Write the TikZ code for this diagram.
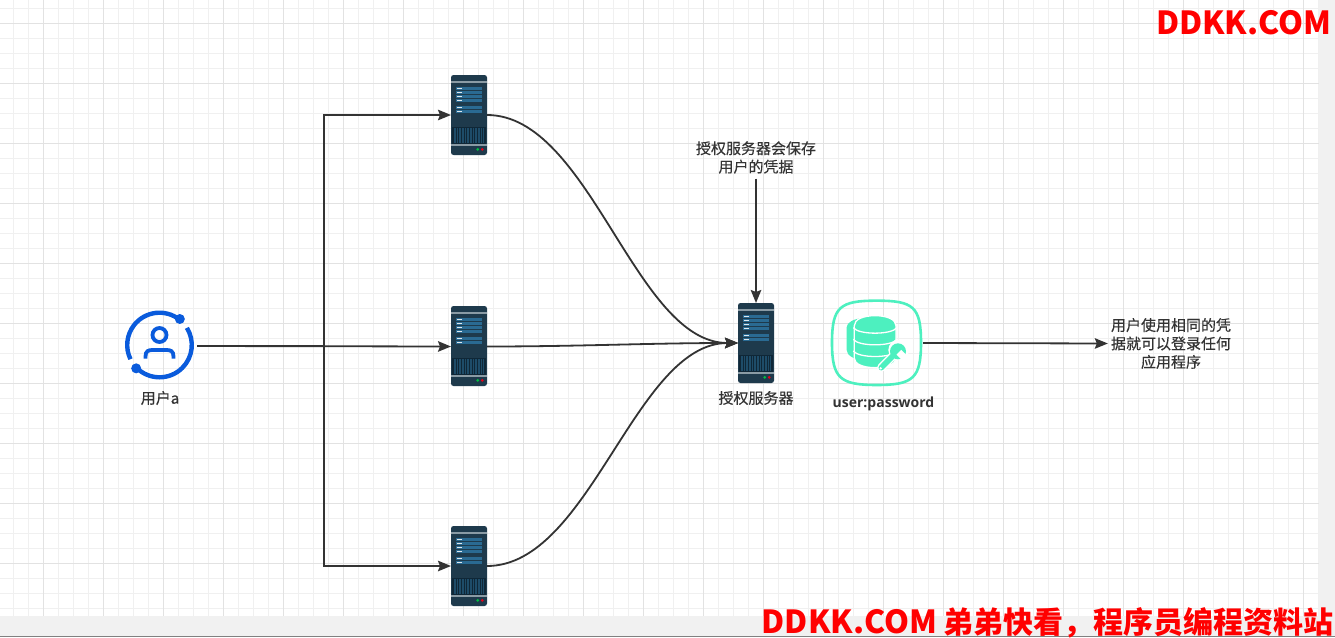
\documentclass[tikz,border=0pt]{standalone}
\usepackage{fontspec}
\setmainfont{Noto Sans CJK SC}[FakeBold=0.25]
\newfontfamily\brandfont{Noto Sans CJK SC}
\newfontfamily\dbfont{Open Sans}
\usetikzlibrary{arrows.meta}
\definecolor{ink}{HTML}{333333}
\definecolor{gridminor}{HTML}{F0F0F0}
\definecolor{gridmajor}{HTML}{E2E2E2}
\definecolor{chrome}{HTML}{F1F1F1}
\definecolor{bodyc}{HTML}{1E3A4C}
\definecolor{stripe}{HTML}{8A9BA5}
\definecolor{panel}{HTML}{2A6A92}
\definecolor{grille}{HTML}{0F2737}
\definecolor{userblue}{HTML}{0A5BDC}
\definecolor{mint}{HTML}{4DF0BF}
\tikzset{
  conn/.style={draw=ink,line width=1.8pt,-{Stealth[length=13pt,width=10.5pt,inset=2pt]}},
  plainline/.style={draw=ink,line width=1.8pt},
  label/.style={text=ink,font=\fontsize{15}{18.4}\selectfont,align=center,inner sep=0pt},
  brand/.style={text=red,font=\brandfont\fontsize{30}{30}\selectfont\bfseries,inner sep=0pt},
  box/.style={inner sep=0pt,outer sep=0pt,minimum width=#1},
  userline/.style={draw=userblue,line width=4.4pt},
}
\newcommand{\bigbrand}[1]{{\fontsize{31.8}{30}\selectfont #1}}
\newcommand{\serverart}[2]{%
  \begin{scope}[shift={(#1,#2)}]
    \fill[bodyc,rounded corners=2.5pt] (0,0) rectangle (36,80);
    \fill[stripe] (0,6.2) rectangle (36,7.8);
    \foreach \py in {11.7,15.8,19.8,24,31,35}{
      \fill[panel] (5,\py) rectangle (31,\py+3.2);
      \fill[white!85!panel] (6,\py+1) rectangle (10.8,\py+2.2);
    }
    \fill[grille] (1,51.5) rectangle (34.5,68.5);
    \foreach \gx in {3,4.6,...,33}{
      \draw[panel!55!grille,line width=.45pt] (\gx,53) -- (\gx,68);
    }
    \fill[stripe] (0,69) rectangle (36,71);
    \fill[green!50!teal] (26.7,74.4) circle[radius=1.5pt];
    \fill[red!60!purple] (31.3,74.4) circle[radius=1.5pt];
  \end{scope}%
}
\begin{document}
\begin{tikzpicture}[x=1pt,y=-1pt]
\useasboundingbox (0,0) rectangle (1335,637);
% canvas
\fill[white] (0,0) rectangle (1335,637);
\fill[chrome] (1319,0) rectangle (1335,637);
\fill[chrome] (0,616) rectangle (1335,637);
\fill[black!50] (0,636) rectangle (1335,637);
\foreach \k in {0,...,87}{
  \pgfmathsetmacro{\gx}{13.5+15*\k}
  \draw[gridminor,line width=1pt] (\gx,0) -- (\gx,616);
}
\foreach \k in {0,...,40}{
  \pgfmathsetmacro{\gy}{8.5+15*\k}
  \draw[gridminor,line width=1pt] (0,\gy) -- (1319,\gy);
}
\foreach \k in {0,...,21}{
  \pgfmathsetmacro{\gx}{43.5+60*\k}
  \draw[gridmajor,line width=1pt] (\gx,0) -- (\gx,616);
}
\foreach \k in {0,...,9}{
  \pgfmathsetmacro{\gy}{23.5+60*\k}
  \draw[gridmajor,line width=1pt] (0,\gy) -- (1319,\gy);
}
% anchors
\node[box=74,minimum height=74] (user) at (160,346) {};
\node[box=36,minimum height=80] (s1) at (469,115) {};
\node[box=36,minimum height=80] (s2) at (469,346.5) {};
\node[box=36,minimum height=80] (s3) at (469,566) {};
\node[box=36,minimum height=80] (auth) at (756,343) {};
\node[box=94,minimum height=86] (db) at (876,343) {};
% server icons
\serverart{451}{75}
\serverart{451}{306}
\serverart{451}{526}
\serverart{738}{303}
% user icon
\begin{scope}[shift={(159.5,345)},x=1pt,y=1pt]
  \draw[userline] (52:32.3) arc[start angle=52,end angle=206,radius=32.3pt];
  \draw[userline] (225:32.3) arc[start angle=225,end angle=392,radius=32.3pt];
  \fill[userblue] (52:33) circle[radius=5pt];
  \fill[userblue] (225:33) circle[radius=5pt];
  \draw[userblue,line width=3.8pt] (0,10) circle[radius=7pt];
  \draw[userblue,line width=3.8pt] (-14,-13.5) -- (-14,-11.5) .. controls (-14,-6) and (-11,-5) .. (-7,-5) -- (7,-5) .. controls (11,-5) and (14,-6) .. (14,-11.5) -- (14,-13.5);
\end{scope}
% database icon
\begin{scope}[shift={(820,290)},x=.3333pt,y=-.3333pt]
  \draw[mint,line width=2.6pt] (170,32) .. controls (280,32) and (303,50) .. (303,158) .. controls (303,265) and (280,285) .. (170,285) .. controls (60,285) and (36,265) .. (36,158) .. controls (36,50) and (60,32) .. (170,32) -- cycle;
  % back crescent
  \fill[mint] (80,112) .. controls (80,98) and (100,86) .. (130,84) -- (190,84) -- (190,212) -- (130,212) .. controls (100,208) and (80,195) .. (80,180) -- cycle;
  % main stack
  \filldraw[fill=mint,draw=white,line width=1.3pt] (103,107) .. controls (103,88) and (130,77) .. (165,77) .. controls (200,77) and (228,88) .. (228,107) -- (228,205) .. controls (228,222) and (200,233) .. (165,233) .. controls (130,233) and (103,222) .. (103,205) -- cycle;
  \foreach \sy in {113,148,183}{
    \draw[white,line width=1.3pt] (100,\sy) .. controls (115,\sy+22) and (215,\sy+22) .. (231,\sy);
  }
  % wrench
  \draw[white,line width=8.5pt,line cap=round] (184,233) -- (232,184);
  \fill[white] (236,180) circle[radius=31];
  \draw[mint,line width=5.6pt,line cap=round] (184,233) -- (232,184);
  \fill[mint] (234,184) circle[radius=24];
  \fill[white,rotate around={-45:(234,184)}] (238,174) rectangle (270,194);
  \fill[white] (182,235) circle[radius=4];
\end{scope}
% connectors
\draw[plainline] (user.east) -- (324,346);
\draw[conn] (user.east) -| (324,115) -- (s1.west);
\draw[conn] (user.east) -- (s2.west);
\draw[conn] (user.east) -| (324,566) -- (s3.west);
\draw[conn] (s1.east) .. controls (590,115) and (635,343) .. (auth.west);
\draw[conn] (s2.east) .. controls (580,346.5) and (650,343) .. (auth.west);
\draw[conn] (s3.east) .. controls (590,566) and (635,343) .. (auth.west);
% labels
\node[label,minimum height=42pt,minimum width=124pt] (note) at (756,157.5) {授权服务器会保存\\用户的凭据};
\draw[conn] (note.south) -- (auth.north);
\node[label,minimum height=60pt,minimum width=126pt] (result) at (1171,343.5) {用户使用相同的凭\\据就可以登录任何\\应用程序};
\draw[conn] (db.east) -- (result.west);
\node[label] (userlabel) at (160,398) {用户a};
\node[label] (authlabel) at (756,398) {授权服务器};
\node[label,font=\dbfont\fontsize{14}{18}\selectfont\bfseries] (dblabel) at (883.5,404) {user:password};
\node[brand,anchor=east] (brandtop) at (1331.5,22.5) {\bigbrand{DDKK.COM}};
\node[brand,anchor=east] (brandbottom) at (1334,622.5) {\bigbrand{DDKK.COM} 弟弟快看，程序员编程资料站};
\end{tikzpicture}
\end{document}
